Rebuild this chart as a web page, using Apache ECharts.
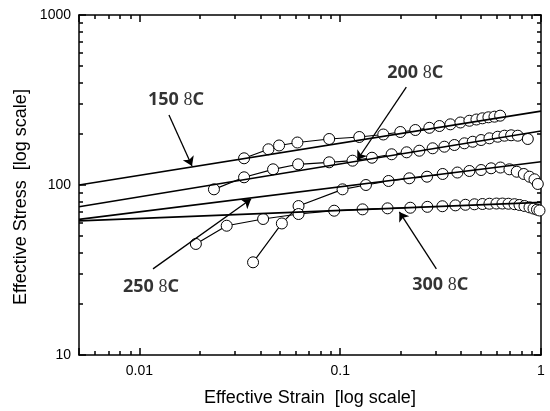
<!DOCTYPE html>
<html>
<head>
<meta charset="utf-8">
<script src="https://cdn.jsdelivr.net/npm/echarts@6/dist/echarts.min.js"></script>
<style>
  html, body { margin: 0; padding: 0; background: #fff; }
  #chart { width: 550px; height: 411px; }
</style>
</head>
<body>
<div id="chart"></div>
<script>
// measured curves (strain, stress in MPa)
const strain150 = [0.0332, 0.0439, 0.0496, 0.0612, 0.0881, 0.1244, 0.1639, 0.1992, 0.2366, 0.2779, 0.3118, 0.3537, 0.3968, 0.4399, 0.4769, 0.5108, 0.5472, 0.5864, 0.6259];
const stress150 = [143.6, 162.2, 170.8, 177.8, 186.5, 191.6, 198.2, 205, 210.6, 217, 222.3, 227.5, 233.2, 238.7, 242.8, 246.8, 250.2, 252.3, 255.7];

const strain200 = [0.0235, 0.0332, 0.0463, 0.0617, 0.0881, 0.1152, 0.1439, 0.1803, 0.2142, 0.2477, 0.2886, 0.3302, 0.3704, 0.4155, 0.4570, 0.5031, 0.5536, 0.6088, 0.6577, 0.7101, 0.7660, 0.8596];
const stress200 = [94.3, 111, 123.7, 132.4, 136, 139, 144.7, 151.6, 155.7, 159.1, 164.4, 168, 171.9, 175.9, 179.7, 183.9, 188.2, 192.3, 195, 196.1, 195, 186.5];

const strain250 = [0.0368, 0.0512, 0.0620, 0.1027, 0.1343, 0.1741, 0.2209, 0.2706, 0.3238, 0.3834, 0.4399, 0.5031, 0.5644, 0.6281, 0.6964, 0.7572, 0.8211, 0.8763, 0.9281, 0.9639];
const stress250 = [35.1, 59.4, 75.2, 94.3, 100, 105.6, 109.5, 111.9, 116.1, 118.4, 120.9, 122.5, 125.4, 126.7, 123.7, 119.7, 116.1, 111.9, 108.0, 101.4];

const strain300 = [0.0191, 0.0272, 0.0413, 0.0620, 0.0933, 0.1292, 0.1721, 0.2234, 0.2716, 0.3227, 0.3747, 0.4202, 0.4660, 0.5108, 0.5536, 0.6000, 0.6427, 0.6885, 0.7377, 0.7813, 0.8275, 0.8763, 0.9176, 0.955, 0.983];
const stress300 = [45.0, 57.6, 63.1, 67.5, 70.6, 71.9, 72.9, 73.5, 74.4, 75.0, 75.9, 76.5, 77.0, 77.3, 77.6, 77.8, 77.8, 77.6, 77.1, 76.3, 75.2, 73.9, 72.7, 71.6, 70.8];

// power-law fit lines, ends at strain 0.005 and 1
const fitStrain = [0.005, 1];
const fit150 = [100, 272];
const fit200 = [74.5, 208];
const fit250 = [62.8, 137];
const fit300 = [61.5, 79];

// annotations
const tempLabels = ['150', '200', '250', '300'];
const labelStrain = [0.0152, 0.2366, 0.01141, 0.3152];
const labelStress = [316, 456, 25.1, 25.8];
const arrowFrom = [[0.01403, 258], [0.2134, 377], [0.01168, 32.1], [0.3012, 32.1]];
const arrowTo = [[0.01827, 129.4], [0.1216, 140.3], [0.03598, 82.7], [0.1970, 69.4]];

const xRange = [0.005, 1];
const yRange = [10, 1000];

const zip = (xs, ys) => xs.map((x, i) => [x, ys[i]]);

const chart = echarts.init(document.getElementById('chart'));

function isDecade(v) {
  const l = Math.log10(v);
  return Math.abs(l - Math.round(l)) < 1e-6;
}

const axisCommon = {
  type: 'log',
  logBase: 10,
  axisLine: { show: true, onZero: false, lineStyle: { color: '#000', width: 1.5 } },
  axisTick: { show: true, inside: true, length: 7, lineStyle: { color: '#000', width: 1.5 } },
  minorTick: { show: true, splitNumber: 9, length: 4, lineStyle: { color: '#000', width: 1.5 } },
  splitLine: { show: false },
  minorSplitLine: { show: false }
};

function curve(xs, ys) {
  return {
    type: 'line',
    data: zip(xs, ys),
    symbol: 'circle',
    symbolSize: 11,
    showAllSymbol: true,
    lineStyle: { color: '#000', width: 1.2 },
    itemStyle: { color: '#fff', borderColor: '#000', borderWidth: 1 },
    z: 2
  };
}

function fitLine(ys) {
  return {
    type: 'line',
    data: zip(fitStrain, ys),
    symbol: 'none',
    lineStyle: { color: '#000', width: 1.6 },
    z: 3
  };
}

chart.setOption({
  animation: false,
  grid: { left: 79, right: 9, top: 15, bottom: 56, outerBoundsMode: 'none' },
  xAxis: [
    Object.assign({}, axisCommon, {
      min: xRange[0], max: xRange[1], position: 'bottom',
      axisLabel: {
        show: true, margin: 9, color: '#000', fontSize: 14, fontFamily: 'Liberation Sans',
        formatter: v => isDecade(v) ? String(v) : ''
      }
    }),
    Object.assign({}, axisCommon, {
      min: xRange[0], max: xRange[1], position: 'top', axisLabel: { show: false }
    })
  ],
  yAxis: [
    Object.assign({}, axisCommon, {
      min: yRange[0], max: yRange[1], position: 'left',
      axisLabel: {
        show: true, margin: 8, color: '#000', fontSize: 14, fontFamily: 'Liberation Sans',
        formatter: v => isDecade(v) ? String(v) : ''
      }
    }),
    Object.assign({}, axisCommon, {
      min: yRange[0], max: yRange[1], position: 'right', axisLabel: { show: false }
    })
  ],
  graphic: [
    {
      type: 'text', x: 310, y: 398,
      style: { text: 'Effective Strain  [log scale]', fontSize: 18, fontFamily: 'Liberation Sans', fill: '#000', align: 'center', verticalAlign: 'middle' }
    },
    {
      type: 'text', x: 21, y: 197, rotation: Math.PI / 2,
      style: { text: 'Effective Stress  [log scale]', fontSize: 18, fontFamily: 'Liberation Sans', fill: '#000', align: 'center', verticalAlign: 'middle' }
    }
  ],
  series: [
    curve(strain150, stress150),
    curve(strain200, stress200),
    curve(strain250, stress250),
    curve(strain300, stress300),
    fitLine(fit150),
    fitLine(fit200),
    fitLine(fit250),
    fitLine(fit300),
    {
      type: 'lines',
      coordinateSystem: 'cartesian2d',
      symbol: ['none', 'arrow'],
      symbolSize: 9,
      lineStyle: { color: '#000', width: 1.3, opacity: 1 },
      data: arrowFrom.map((p, i) => ({ coords: [p, arrowTo[i]] })),
      z: 4
    },
    {
      type: 'scatter',
      symbolSize: 0,
      data: tempLabels.map((t, i) => ({ value: [labelStrain[i], labelStress[i]], name: t })),
      label: {
        show: true,
        position: 'inside',
        formatter: p => '{b|' + p.name + ' }{d|8}{b|C}',
        rich: {
          b: { fontFamily: 'Noto Sans', fontWeight: 'bold', fontSize: 18, color: '#000' },
          d: { fontFamily: 'Liberation Serif', fontSize: 18, color: '#000' }
        }
      },
      z: 5
    }
  ]
});
</script>
</body>
</html>
